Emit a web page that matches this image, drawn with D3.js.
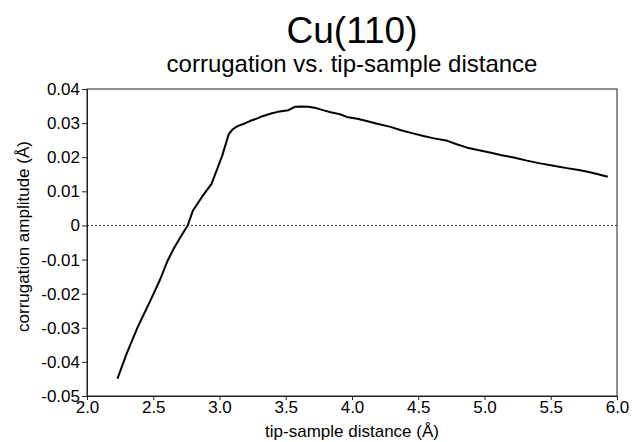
<!DOCTYPE html>
<html>
<meta charset="utf-8">
<script src="https://d3js.org/d3.v7.min.js"></script>
<style>
    body { margin: 0; background: #fff; }
    svg { display: block; font-family: "Liberation Sans", Arial, sans-serif; }
    .axis text { font-size: 17px; fill: #000; }
    .axis path, .axis line { stroke: #222; }
</style>
<body>
    <svg width="632" height="442"></svg>
    <script>
        // tip-sample distance (Å)
        const distance = [2.23, 2.30, 2.38, 2.48, 2.55, 2.61, 2.66, 2.72, 2.76, 2.80, 2.87, 2.94,
            3.02, 3.07, 3.10, 3.14, 3.19, 3.23, 3.28, 3.33, 3.39, 3.44, 3.52, 3.57, 3.62, 3.67,
            3.73, 3.78, 3.84, 3.91, 3.97, 4.04, 4.11, 4.19, 4.29, 4.37, 4.46, 4.54, 4.61, 4.72,
            4.79, 4.87, 4.95, 5.04, 5.13, 5.22, 5.32, 5.42, 5.52, 5.62, 5.70, 5.77, 5.85, 5.93];
        // corrugation amplitude (Å)
        const amplitude = [-0.0449, -0.0375, -0.0300, -0.0219, -0.0160, -0.0102, -0.0064, -0.0025, 0.0000, 0.0044, 0.0085, 0.0122,
            0.0204, 0.0268, 0.0282, 0.0292, 0.0299, 0.0306, 0.0313, 0.0321, 0.0328, 0.0333, 0.0338, 0.0348, 0.0349, 0.0348,
            0.0344, 0.0338, 0.0332, 0.0326, 0.0317, 0.0313, 0.0306, 0.0298, 0.0289, 0.0279, 0.0270, 0.0262, 0.0256, 0.0248,
            0.0238, 0.0228, 0.0221, 0.0214, 0.0206, 0.0199, 0.0190, 0.0182, 0.0175, 0.0168, 0.0163, 0.0158, 0.0151, 0.0143];

        const xTicks = [2.0, 2.5, 3.0, 3.5, 4.0, 4.5, 5.0, 5.5, 6.0];
        const yTicks = [0.04, 0.03, 0.02, 0.01, 0, -0.01, -0.02, -0.03, -0.04, -0.05];

        const data = distance.map((d, i) => ({ x: d, y: amplitude[i] }));

        let svg = d3.select("svg"),
            margin = { top: 89, right: 15, bottom: 46, left: 87 },
            width = +svg.attr("width") - margin.left - margin.right,
            height = +svg.attr("height") - margin.top - margin.bottom;

        let x = d3.scaleLinear().domain([2, 6]).range([0, width]),
            y = d3.scaleLinear().domain([-0.05, 0.04]).range([height, 0]);

        let xAxis = d3.axisBottom(x).tickValues(xTicks).tickSize(4).tickSizeOuter(0).tickPadding(1).tickFormat(d => d.toFixed(1)),
            yAxis = d3.axisLeft(y).tickValues(yTicks).tickSize(5).tickSizeOuter(0).tickPadding(2)
                .tickFormat(d => d === 0 ? "0" : d.toFixed(2));

        let chart = svg.append("g").attr("transform", `translate(${margin.left},${margin.top})`);

        // frame
        chart.append("rect")
            .attr("width", width).attr("height", height)
            .style("fill", "none").style("stroke", "#222").style("stroke-width", "1px");

        // zero line
        chart.append("line")
            .attr("x1", 0).attr("x2", width)
            .attr("y1", y(0)).attr("y2", y(0))
            .style("stroke", "#333").style("stroke-width", "1px").style("stroke-dasharray", "2,2");

        chart.append("g").attr("class", "axis axis--x").attr("transform", "translate(0," + height + ")").call(xAxis);
        chart.append("g").attr("class", "axis axis--y").call(yAxis);

        // curve
        chart.append("path")
            .datum(data)
            .attr("d", d3.line().x(d => x(d.x)).y(d => y(d.y)))
            .style("fill", "none").style("stroke", "#000").style("stroke-width", "2px").style("stroke-linejoin", "round");

        // titles
        svg.append("text")
            .attr("x", margin.left + width / 2).attr("y", 43)
            .attr("text-anchor", "middle").style("font-size", "37px")
            .text("Cu(110)");
        svg.append("text")
            .attr("x", margin.left + width / 2).attr("y", 72)
            .attr("text-anchor", "middle").style("font-size", "24px")
            .text("corrugation vs. tip-sample distance");

        svg.append("text")
            .attr("x", margin.left + width / 2).attr("y", 437)
            .attr("text-anchor", "middle").style("font-size", "17px")
            .text("tip-sample distance (Å)");
        svg.append("text")
            .attr("transform", `translate(29,${margin.top + height / 2 - 6}) rotate(-90)`)
            .attr("text-anchor", "middle").style("font-size", "17px")
            .text("corrugation amplitude (Å)");
    </script>
</body>
</html>
